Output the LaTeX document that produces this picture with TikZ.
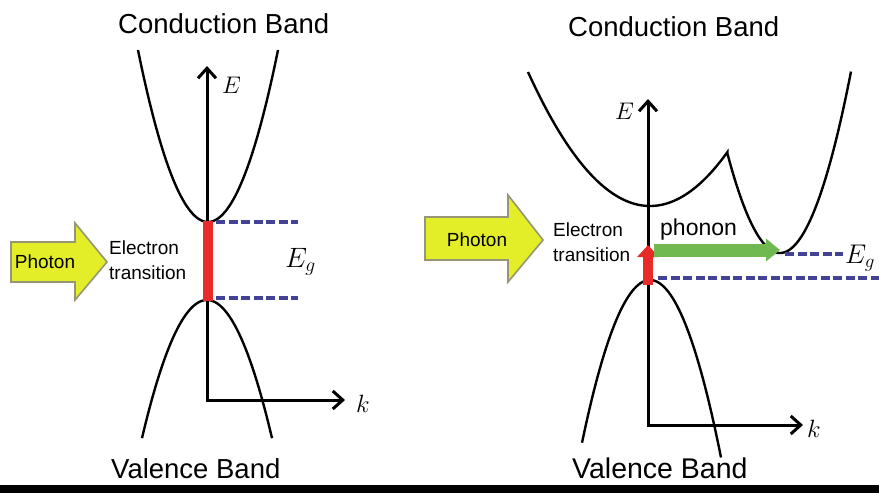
\RequirePackage{fix-cm}
\documentclass[tikz,border=0pt]{standalone}
\usepackage{fontspec}
\setmainfont{Liberation Sans}
\usetikzlibrary{arrows.meta}
\definecolor{redbar}{RGB}{232,42,40}
\definecolor{greenph}{RGB}{112,184,80}
\definecolor{yell}{RGB}{228,238,40}
\definecolor{yedge}{RGB}{150,150,118}
\definecolor{dashblue}{RGB}{66,66,150}
\begin{document}
\begin{tikzpicture}[x=1pt,y=-1pt,
  band/.style={line width=2.4pt, line join=miter, miter limit=20},
  axis/.style={line width=3pt, line cap=rect, -{Straight Barb[length=10pt,width=18pt,line width=3pt]}},
  gapline/.style={dashblue, line width=3.3pt, dash pattern=on 9pt off 3.5pt},
  title/.style={font=\fontsize{27.5}{30}\selectfont, anchor=base west, inner sep=0pt},
  note/.style={font=\fontsize{19}{25}\selectfont, align=left, anchor=west, inner sep=0pt},
  photonarrow/.style={fill=yell, draw=yedge, line width=1.6pt, line join=miter},
  mlabel/.style={anchor=base west, inner sep=0pt}]
\useasboundingbox (0,0) rectangle (879,493);
\fill[white] (0,0) rectangle (879,493);
\fill[black] (0,485) rectangle (879,493);

% ---------------- left panel ----------------
\node[title] (cb1) at (118,33) {Conduction Band};
\node[title] (vb1) at (111,478) {Valence Band};

\coordinate (O1) at (207,400);
\coordinate (Etip1) at (207,66);
\coordinate (Ktip1) at (345,400);
\draw[axis] (O1) -- (Etip1);
\draw[axis] (O1) -- (Ktip1);
\node[mlabel, font=\fontsize{24}{24}\selectfont] (E1) at (222,93) {$E$};
\node[mlabel, font=\fontsize{25}{25}\selectfont] (k1) at (356,412) {$k$};

\draw[band] plot[domain=-70:70, samples=70] ({208+\x}, {222-0.0351*\x*\x});
\draw[band] plot[domain=-65:65, samples=70] ({207+\x}, {300+0.0327*\x*\x});

\coordinate (cbmin1) at (208,221);
\coordinate (vbmax1) at (208,301);
\draw[redbar, line width=10pt] (cbmin1) -- (vbmax1);

\coordinate (g1a) at (216,222);
\coordinate (g1b) at (298,222);
\coordinate (g1c) at (216,298);
\coordinate (g1d) at (298,298);
\draw[gapline] (g1a) -- (g1b);
\draw[gapline] (g1c) -- (g1d);
\node[mlabel, font=\fontsize{28}{28}\selectfont] (Eg1) at (285,267) {$E_g$};

\draw[photonarrow] (11,242) -- (75,242) -- (75,223) -- (107,262) -- (75,300) -- (75,282) -- (11,282) -- cycle;
\node[font=\fontsize{19}{19}\selectfont, inner sep=0pt] (ph1) at (45,262) {Photon};
\node[note] (tr1) at (109,260) {Electron\\transition};

% ---------------- right panel ----------------
\node[title] (cb2) at (568,36) {Conduction Band};
\node[title, font=\fontsize{28.5}{30}\selectfont] (vb2) at (572,478) {Valence Band};

\coordinate (O2) at (648,425);
\coordinate (Etip2) at (648,99);
\coordinate (Ktip2) at (803,425);
\draw[axis] (O2) -- (Etip2);
\draw[axis] (O2) -- (Ktip2);
\node[mlabel, font=\fontsize{24}{24}\selectfont] (E2) at (615,119) {$E$};
\node[mlabel, font=\fontsize{25}{25}\selectfont] (k2) at (807,437) {$k$};

% conduction band with indirect minimum
\draw[band] plot[domain=-122:77.3, samples=90] ({650+\x}, {206-0.009*\x*\x})
   -- plot[domain=-52.7:71, samples=70] ({780+\x}, {253-0.036*\x*\x});
% valence band
\draw[band] plot[domain=-68:71, samples=70] ({650+\x}, {280+0.0352*\x*\x});

\coordinate (vbmax2) at (648,285);
\coordinate (rtip) at (648,245);
\draw[redbar, line width=10pt, -{Triangle[length=12pt,width=21pt]}] (vbmax2) -- (rtip);

\coordinate (gstart) at (654,250);
\coordinate (gtip) at (780,250);
\draw[greenph, line width=13pt, -{Triangle[length=14pt,width=22pt]}] (gstart) -- (gtip);
\node[anchor=base west, inner sep=0pt, font=\fontsize{23}{23}\selectfont] (phon) at (660,235) {phonon};

\coordinate (g2a) at (785,254);
\coordinate (g2b) at (843,254);
\coordinate (g2c) at (658,278);
\coordinate (g2d) at (879,278);
\draw[gapline] (g2a) -- (g2b);
\draw[gapline] (g2c) -- (g2d);
\node[mlabel, font=\fontsize{27}{27}\selectfont] (Eg2) at (845,263) {$E_g$};

\draw[photonarrow] (425,217) -- (508,217) -- (508,195) -- (543,240) -- (508,282) -- (508,260) -- (425,260) -- cycle;
\node[font=\fontsize{19}{19}\selectfont, inner sep=0pt] (ph2) at (477,240) {Photon};
\node[note] (tr2) at (553,242) {Electron\\transition};
\end{tikzpicture}
\end{document}
